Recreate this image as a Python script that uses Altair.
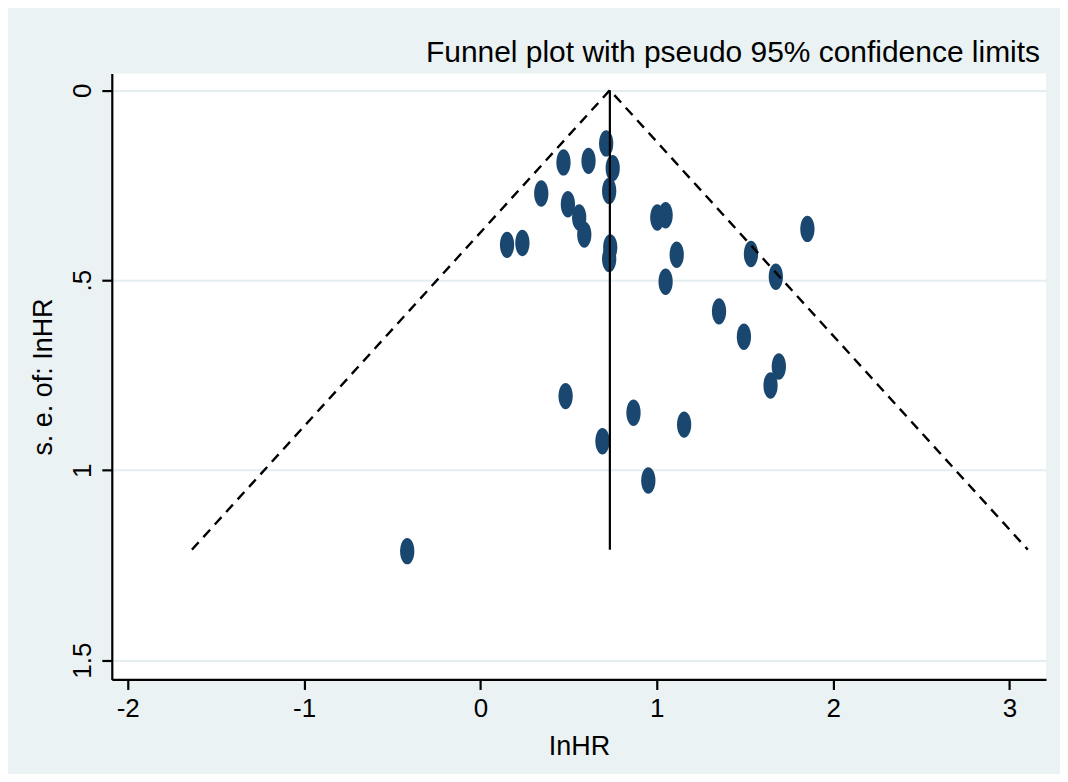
import altair as alt
import pandas as pd

# Study estimates
lnhr = [0.713, 0.471, 0.613, 0.750, 0.730, 0.345, 0.496, 0.560, 0.589, 0.151,
        0.238, 0.736, 0.730, 1.003, 1.050, 1.113, 1.050, 1.854, 1.534, 1.675,
        1.353, 1.494, 1.692, 1.645, 0.483, 0.868, 1.155, 0.692, 0.952, -0.415]
se = [0.140, 0.190, 0.186, 0.205, 0.265, 0.272, 0.300, 0.335, 0.380, 0.407,
      0.402, 0.414, 0.444, 0.335, 0.329, 0.433, 0.504, 0.365, 0.431, 0.491,
      0.582, 0.649, 0.727, 0.777, 0.805, 0.849, 0.880, 0.924, 1.027, 1.213]

pooled = 0.734      # pooled lnHR (vertical line)
se_max = 1.209      # bottom of the funnel
z = 1.96

x_ticks = [-2, -1, 0, 1, 2, 3]
y_ticks = [0, 0.5, 1, 1.5]
y_tick_labels = ["0", ".5", "1", "1.5"]

FONT = "Liberation Sans"
NAVY = "#1A476F"
BG = "#EAF2F3"

pts = pd.DataFrame({"lnhr": lnhr, "se": se})
funnel = pd.DataFrame({
    "lnhr": [pooled - z * se_max, pooled, pooled + z * se_max],
    "se": [se_max, 0.0, se_max],
})
vline = pd.DataFrame({"lnhr": [pooled, pooled], "se": [0.0, se_max]})

label_expr = " : ".join(
    [f"datum.value == {v} ? '{l}'" for v, l in zip(y_ticks, y_tick_labels)]
) + " : datum.label"

xscale = alt.Scale(domain=[-2.09, 3.207], nice=False, zero=False)
yscale = alt.Scale(domain=[-0.0436, 1.5506], nice=False, zero=False, reverse=True)

xenc = alt.X("lnhr:Q", scale=xscale, title="InHR",
             axis=alt.Axis(values=x_ticks, grid=False,
                           labelExpr="'' + datum.value"))
yenc = alt.Y("se:Q", scale=yscale, title="s. e. of: InHR",
             axis=alt.Axis(values=y_ticks, grid=True, labelExpr=label_expr,
                           labelAngle=270, labelAlign="center",
                           labelBaseline="bottom"))

ellipse = "M -0.54 0 A 0.54 1 0 1 1 0.54 0 A 0.54 1 0 1 1 -0.54 0 Z"

points = alt.Chart(pts).mark_point(
    shape=ellipse, filled=True, fill=NAVY, opacity=1, size=700, strokeWidth=0
).encode(x=xenc, y=yenc)

funnel_line = alt.Chart(funnel).mark_line(
    color="black", strokeWidth=2.4, strokeDash=[10, 7]
).encode(x="lnhr:Q", y="se:Q")

vert = alt.Chart(vline).mark_line(color="black", strokeWidth=2.2).encode(
    x="lnhr:Q", y="se:Q"
)

chart = alt.layer(points, funnel_line, vert).properties(
    width=936,
    height=607,
    background=BG,
    padding={"left": 104, "top": 65, "right": 14, "bottom": 94},
    autosize=alt.AutoSizeParams(type="none"),
    title=alt.TitleParams(
        "Funnel plot with pseudo 95% confidence limits",
        anchor="end", fontSize=30, font=FONT, fontWeight="normal",
        color="black", offset=6, dx=-6,
    ),
).configure_view(
    fill="white", stroke=None
).configure_axis(
    domainColor="black", domainWidth=2.2,
    tickColor="black", tickWidth=2.2, tickSize=10,
    labelFont=FONT, labelFontSize=26, labelColor="black", labelPadding=6,
    titleFont=FONT, titleFontSize=27, titleFontWeight="normal", titleColor="black",
    gridColor="#E4EDF0", gridWidth=2,
).configure_axisX(
    titlePadding=12,
).configure_axisY(
    titlePadding=12,
)

chart.save("out.html", embed_options={"renderer": "svg", "actions": False})
